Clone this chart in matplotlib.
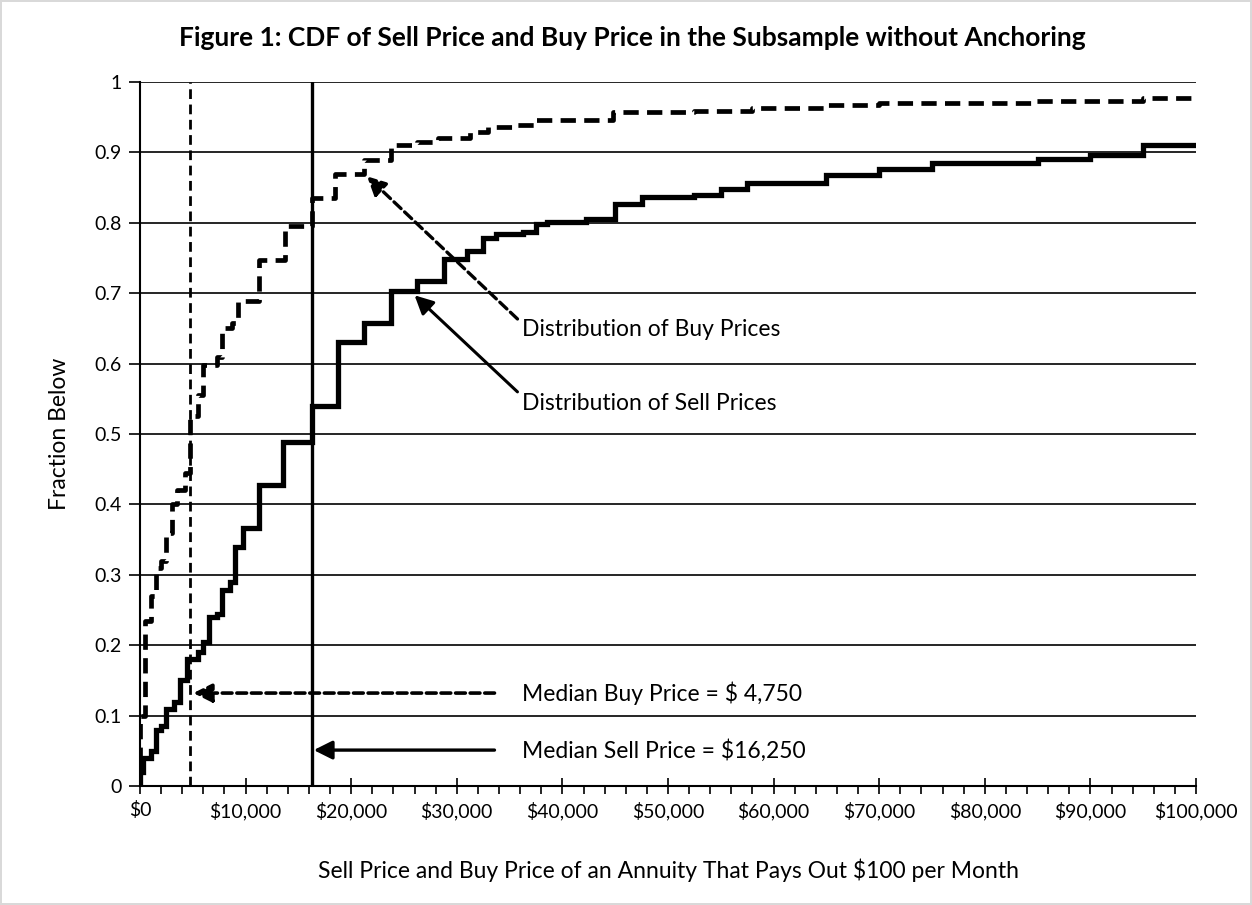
import numpy as np
import matplotlib
matplotlib.use("Agg")
import matplotlib.pyplot as plt
from matplotlib.ticker import FuncFormatter, MultipleLocator

plt.rcParams['font.family'] = ['Lato', 'DejaVu Sans']
plt.rcParams['lines.scale_dashes'] = False

sell_price = [0, 0, 250, 1000, 1500, 2000, 2500, 3250, 3750, 4500,
              5500, 6000, 6500, 7250, 7750, 8500, 9000, 9750, 11250, 13500,
              16250, 18750, 21250, 23750, 26250, 28750, 31000, 32500, 33750, 36250,
              37500, 38500, 42250, 45000, 47500, 52500, 55000, 57500, 65000, 70000,
              75000, 85000, 90000, 95000, 100000]
sell_cdf = [0, 0.02, 0.04, 0.05, 0.08, 0.085, 0.11, 0.12, 0.15, 0.18,
            0.19, 0.205, 0.24, 0.245, 0.278, 0.29, 0.34, 0.367, 0.428, 0.489,
            0.54, 0.631, 0.658, 0.703, 0.717, 0.749, 0.76, 0.778, 0.784, 0.787,
            0.798, 0.801, 0.805, 0.827, 0.837, 0.84, 0.848, 0.856, 0.868, 0.876,
            0.885, 0.89, 0.896, 0.91, 0.91]

buy_price = [0, 0, 500, 1000, 1500, 2000, 2500, 3000, 3500, 4250,
             4750, 5500, 6000, 7250, 7750, 8750, 9250, 11250, 13750, 16250,
             18500, 21250, 23750, 26250, 28250, 31250, 33000, 35250, 37500, 44750,
             52500, 58000, 64750, 70000, 84750, 95000, 100000]
buy_cdf = [0, 0.10, 0.235, 0.27, 0.31, 0.32, 0.36, 0.40, 0.42, 0.445,
           0.525, 0.555, 0.598, 0.61, 0.65, 0.657, 0.689, 0.747, 0.795, 0.835,
           0.869, 0.889, 0.91, 0.915, 0.92, 0.929, 0.936, 0.939, 0.946, 0.957,
           0.959, 0.963, 0.967, 0.970, 0.973, 0.977, 0.977]

median_buy = 4750
median_sell = 16250

fig = plt.figure(figsize=(12.52, 9.05), dpi=100)
fig.patch.set_edgecolor('#d9d9d9')
fig.patch.set_linewidth(1.5)
ax = fig.add_axes([0.1118, 0.1315, 0.9553 - 0.1118, 0.9094 - 0.1315])

ax.set_xlim(0, 100000)
ax.set_ylim(0, 1)
ax.yaxis.set_major_locator(MultipleLocator(0.1))
ax.xaxis.set_major_locator(MultipleLocator(10000))
ax.xaxis.set_minor_locator(MultipleLocator(2000))
ax.grid(axis='y', color='black', lw=1.2)
ax.set_axisbelow(True)
for s in ['top', 'right']:
    ax.spines[s].set_visible(False)
ax.spines['left'].set_linewidth(1.5)
ax.spines['bottom'].set_linewidth(1.5)

ax.xaxis.set_major_formatter(FuncFormatter(lambda v, p: '${:,.0f}'.format(v)))
ax.yaxis.set_major_formatter(FuncFormatter(lambda v, p: '{:g}'.format(round(v, 1))))
ax.tick_params(axis='x', which='major', direction='inout', length=12, width=1.2,
               labelsize=14, pad=5)
ax.tick_params(axis='x', which='minor', direction='out', length=6, width=1.2)
ax.tick_params(axis='y', direction='out', length=8, width=1.2, labelsize=14, pad=5)

# median lines
ax.axvline(median_sell, color='black', lw=2.4)
ax.axvline(median_buy, color='black', lw=2.0, dashes=(7, 4))

# CDF curves
ax.plot(sell_price, sell_cdf, drawstyle='steps-post', color='black', lw=3.8,
        solid_joinstyle='miter')
ax.plot(buy_price, buy_cdf, drawstyle='steps-post', color='black', lw=3.4,
        dashes=(11, 6))

# annotations
fs = 16.5
dash_style = (0, (7, 3.5))
ax.annotate('Distribution of Buy Prices', xy=(21500, 0.866), xytext=(36200, 0.648),
            fontsize=fs, va='center', ha='left',
            arrowprops=dict(arrowstyle='-|>', color='black', lw=2.4, mutation_scale=28,
                            linestyle=dash_style, shrinkA=2, shrinkB=0,
                            relpos=(0, 0.8)))
ax.annotate('Distribution of Sell Prices', xy=(26000, 0.697), xytext=(36200, 0.543),
            fontsize=fs, va='center', ha='left',
            arrowprops=dict(arrowstyle='-|>', color='black', lw=2.2, mutation_scale=28,
                            shrinkA=2, shrinkB=0, relpos=(0, 0.85)))
ax.annotate('Median Buy Price = $ 4,750', xy=(median_buy + 300, 0.132),
            xytext=(36200, 0.132), fontsize=fs, va='center', ha='left',
            arrowprops=dict(arrowstyle='-|>', color='black', lw=2.6, mutation_scale=28,
                            linestyle=dash_style, shrinkA=18, shrinkB=0))
ax.annotate('Median Sell Price = $16,250', xy=(median_sell + 200, 0.051),
            xytext=(36200, 0.051), fontsize=fs, va='center', ha='left',
            arrowprops=dict(arrowstyle='-|>', color='black', lw=2.4, mutation_scale=28,
                            shrinkA=18, shrinkB=0))

fig.suptitle('Figure 1: CDF of Sell Price and Buy Price in the Subsample without Anchoring',
             x=0.505, y=0.958, fontsize=19, fontweight='bold', va='center')
ax.set_xlabel('Sell Price and Buy Price of an Annuity That Pays Out $100 per Month',
              fontsize=16.5, labelpad=28)
ax.set_ylabel('Fraction Below', fontsize=16.5, labelpad=18)

fig.savefig('out.png', dpi=100)
